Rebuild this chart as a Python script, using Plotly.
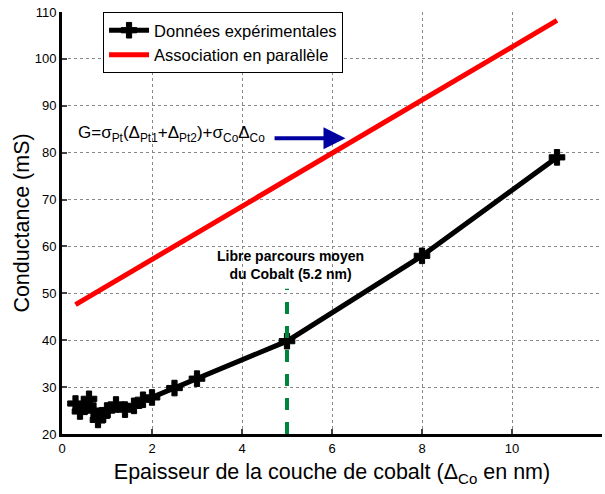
import plotly.graph_objects as go

# Data
exp_x = [0.3, 0.4, 0.5, 0.6, 0.7, 0.8, 0.9, 1.0, 1.2, 1.4, 1.6, 1.8, 2.0, 2.5, 3.0, 5.0, 8.0, 11.0]
exp_y = [26.5, 24.8, 25.8, 27.5, 25.0, 23.0, 24.0, 25.0, 26.3, 25.2, 26.0, 27.3, 27.8, 29.8, 31.8, 39.8, 58.0, 79.0]
par_x = [0.3, 11.0]
par_y = [47.6, 108.2]
mfp_x = [5.0, 5.0]
mfp_y = [20.0, 51.0]
arrow_x = [4.69, 6.3]
arrow_y = [83.1, 83.1]

font = "Liberation Sans, Arial, sans-serif"

fig = go.Figure()
fig.add_trace(go.Scatter(x=exp_x, y=exp_y, mode="lines+markers", name="Données expérimentales",
                         line=dict(color="black", width=5),
                         marker=dict(symbol="cross", size=13, color="black",
                                     line=dict(color="black", width=1))))
fig.add_trace(go.Scatter(x=par_x, y=par_y, mode="lines", name="Association en parallèle",
                         line=dict(color="#ff0000", width=5)))
fig.add_trace(go.Scatter(x=mfp_x, y=mfp_y, mode="lines", showlegend=False,
                         line=dict(color="#00853f", width=4, dash="dash")))

fig.add_annotation(x=arrow_x[1], y=arrow_y[1], ax=arrow_x[0], ay=arrow_y[0],
                   xref="x", yref="y", axref="x", ayref="y", text="",
                   showarrow=True, arrowhead=2, arrowsize=1.1, arrowwidth=4, arrowcolor="#0000a0")
fig.add_annotation(x=0.32, y=84.0, xref="x", yref="y", xanchor="left", yanchor="middle",
                   text="G=σ<sub>Pt</sub>(Δ<sub>Pt1</sub>+Δ<sub>Pt2</sub>)+σ<sub>Co</sub>Δ<sub>Co</sub>",
                   showarrow=False, font=dict(family=font, size=17, color="black"))
fig.add_annotation(x=5.07, y=56.0, xref="x", yref="y", xanchor="center", yanchor="middle",
                   text="<b>Libre parcours moyen<br>du Cobalt (5.2 nm)</b>",
                   showarrow=False, font=dict(family=font, size=14, color="black"))

fig.update_layout(
    width=605, height=494,
    margin=dict(l=62, r=3, t=12, b=60, autoexpand=False),
    paper_bgcolor="white", plot_bgcolor="white",
    font=dict(family=font, size=13, color="black"),
    showlegend=True,
    legend=dict(x=0.076, y=1.0, xanchor="left", yanchor="top",
                bgcolor="white", bordercolor="black", borderwidth=1,
                font=dict(family=font, size=16.5), tracegroupgap=0,
                itemwidth=40),
    xaxis=dict(range=[0, 12], dtick=2, tick0=0, ticks="inside", ticklen=5, tickwidth=2,
               showline=True, linecolor="black", linewidth=3, mirror=False,
               showgrid=True, gridcolor="#888888", griddash="dot", gridwidth=1,
               zeroline=False, automargin=False,
               title=dict(text="Epaisseur de la couche de cobalt (Δ<sub>Co</sub> en nm)",
                          font=dict(family=font, size=21.5), standoff=10)),
    yaxis=dict(range=[20, 110], dtick=10, tick0=20, ticks="inside", ticklen=5, tickwidth=2,
               showline=True, linecolor="black", linewidth=3, mirror=False,
               showgrid=True, gridcolor="#888888", griddash="dot", gridwidth=1,
               zeroline=False, automargin=False,
               title=dict(text="Conductance (mS)", font=dict(family=font, size=21.5), standoff=0)),
)

fig.write_html("out.html", config={"displayModeBar": False},
               post_script="document.body.style.margin='0px';document.body.style.overflow='hidden';")
